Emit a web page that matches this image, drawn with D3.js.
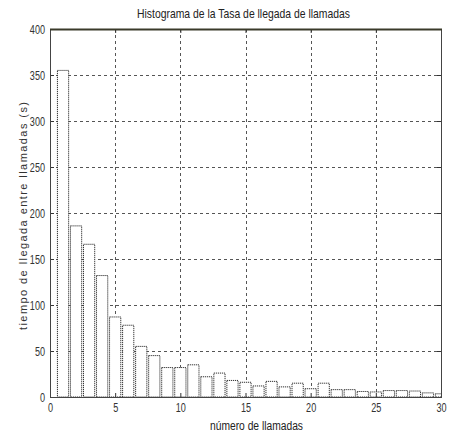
<!DOCTYPE html>
<html>
<head>
<meta charset="utf-8">
<script src="https://cdn.jsdelivr.net/npm/d3@7"></script>
<style>
  html, body { margin: 0; padding: 0; background: #fff; }
  svg text { font-family: "Liberation Sans", Arial, sans-serif; fill: #222; }
</style>
</head>
<body>
<svg id="chart" width="450" height="438"></svg>
<script>
// Number of calls per bin (bin centres 1..30)
const bins = d3.range(1, 31);
// Inter-arrival time per bin, seconds
const values = [355, 186, 166, 132, 87, 78, 55, 45, 32, 32,
                35, 22, 26, 18, 16, 12, 17, 11, 15, 9,
                15, 8, 8, 6, 5.5, 7, 7, 6.5, 4.5, 3.5];
const xTicks = [0, 5, 10, 15, 20, 25, 30];
const yTicks = [0, 50, 100, 150, 200, 250, 300, 350, 400];

const title = "Histograma de la Tasa de llegada de llamadas";
const xLabel = "número de llamadas";
const yLabel = "tiempo de llegada entre llamadas (s)";

const svg = d3.select("#chart");
const plotL = 50, plotR = 441, plotT = 29, plotB = 397;
const narrow = 0.7; // horizontal squeeze for the condensed label face

const x = d3.scaleLinear().domain([0, 30]).range([plotL, plotR]);
const y = d3.scaleLinear().domain([0, 400]).range([plotB, plotT]);
const barW = 0.86;

svg.append("defs").append("clipPath").attr("id", "plotClip")
  .append("rect").attr("x", plotL).attr("y", plotT)
  .attr("width", plotR - plotL).attr("height", plotB - plotT);

// dashed grid
const grid = svg.append("g").attr("stroke", "#555").attr("stroke-width", 1)
  .attr("stroke-dasharray", "3,3").attr("shape-rendering", "crispEdges");
grid.selectAll("line.gx").data(xTicks.slice(1, -1)).join("line")
  .attr("x1", d => Math.round(x(d)) + 0.5).attr("x2", d => Math.round(x(d)) + 0.5)
  .attr("y1", plotT).attr("y2", plotB);
grid.selectAll("line.gy").data(yTicks.slice(1, -1)).join("line")
  .attr("y1", d => Math.round(y(d)) + 0.5).attr("y2", d => Math.round(y(d)) + 0.5)
  .attr("x1", plotL).attr("x2", plotR);

// histogram bars
svg.append("g").attr("clip-path", "url(#plotClip)")
  .selectAll("rect").data(bins).join("rect")
  .attr("x", (d) => x(d - barW / 2))
  .attr("width", x(barW) - x(0))
  .attr("y", (d, i) => y(values[i]))
  .attr("height", (d, i) => y(0) - y(values[i]))
  .attr("fill", "#fff")
  .attr("stroke", "#333")
  .attr("stroke-width", 1)
  .attr("stroke-dasharray", "1.2,0.8");

// axes: ticks inside the box
const xAxis = d3.axisBottom(x).tickValues(xTicks).tickSize(-4).tickPadding(6);
const yAxis = d3.axisLeft(y).tickValues(yTicks).tickSize(-4).tickPadding(5);

const gx = svg.append("g").attr("transform", `translate(0,${plotB})`).call(xAxis);
const gy = svg.append("g").attr("transform", `translate(${plotL},0)`).call(yAxis);
[gx, gy].forEach(g => {
  g.select(".domain").remove();
  g.selectAll(".tick line").attr("stroke", "#333");
  g.selectAll(".tick text")
    .attr("font-family", "Liberation Sans, Arial, sans-serif")
    .attr("font-size", 13).style("fill", "#333")
    .attr("x", function () { return (+d3.select(this).attr("x") || 0) / narrow; })
    .attr("transform", `scale(${narrow},1)`);
});

// top and right axes ticks
svg.append("g").attr("transform", `translate(0,${plotT})`)
  .call(d3.axisTop(x).tickValues(xTicks).tickSize(-4).tickFormat(""))
  .call(g => g.select(".domain").remove())
  .selectAll(".tick line").attr("stroke", "#333");
svg.append("g").attr("transform", `translate(${plotR},0)`)
  .call(d3.axisRight(y).tickValues(yTicks).tickSize(-4).tickFormat(""))
  .call(g => g.select(".domain").remove())
  .selectAll(".tick line").attr("stroke", "#333");

// frame
svg.append("rect").attr("x", plotL + 0.5).attr("y", plotT + 0.5)
  .attr("width", plotR - plotL).attr("height", plotB - plotT)
  .attr("fill", "none").attr("stroke", "#444").attr("stroke-width", 1);
svg.append("line").attr("x1", plotL).attr("x2", plotR + 1)
  .attr("y1", plotT + 0.5).attr("y2", plotT + 0.5)
  .attr("stroke", "#3a3a2a").attr("stroke-width", 2);

// titles
svg.append("text").attr("x", 137).attr("y", 18)
  .attr("font-size", 13.5)
  .attr("textLength", 213).attr("lengthAdjust", "spacingAndGlyphs")
  .text(title);
svg.append("text").attr("x", 210).attr("y", 430)
  .attr("font-size", 12.5)
  .attr("textLength", 93).attr("lengthAdjust", "spacingAndGlyphs")
  .text(xLabel);
svg.append("text")
  .attr("transform", "translate(27,330) rotate(-90)")
  .attr("font-size", 11).style("fill", "#333")
  .attr("textLength", 228).attr("lengthAdjust", "spacing")
  .text(yLabel);
</script>
</body>
</html>
